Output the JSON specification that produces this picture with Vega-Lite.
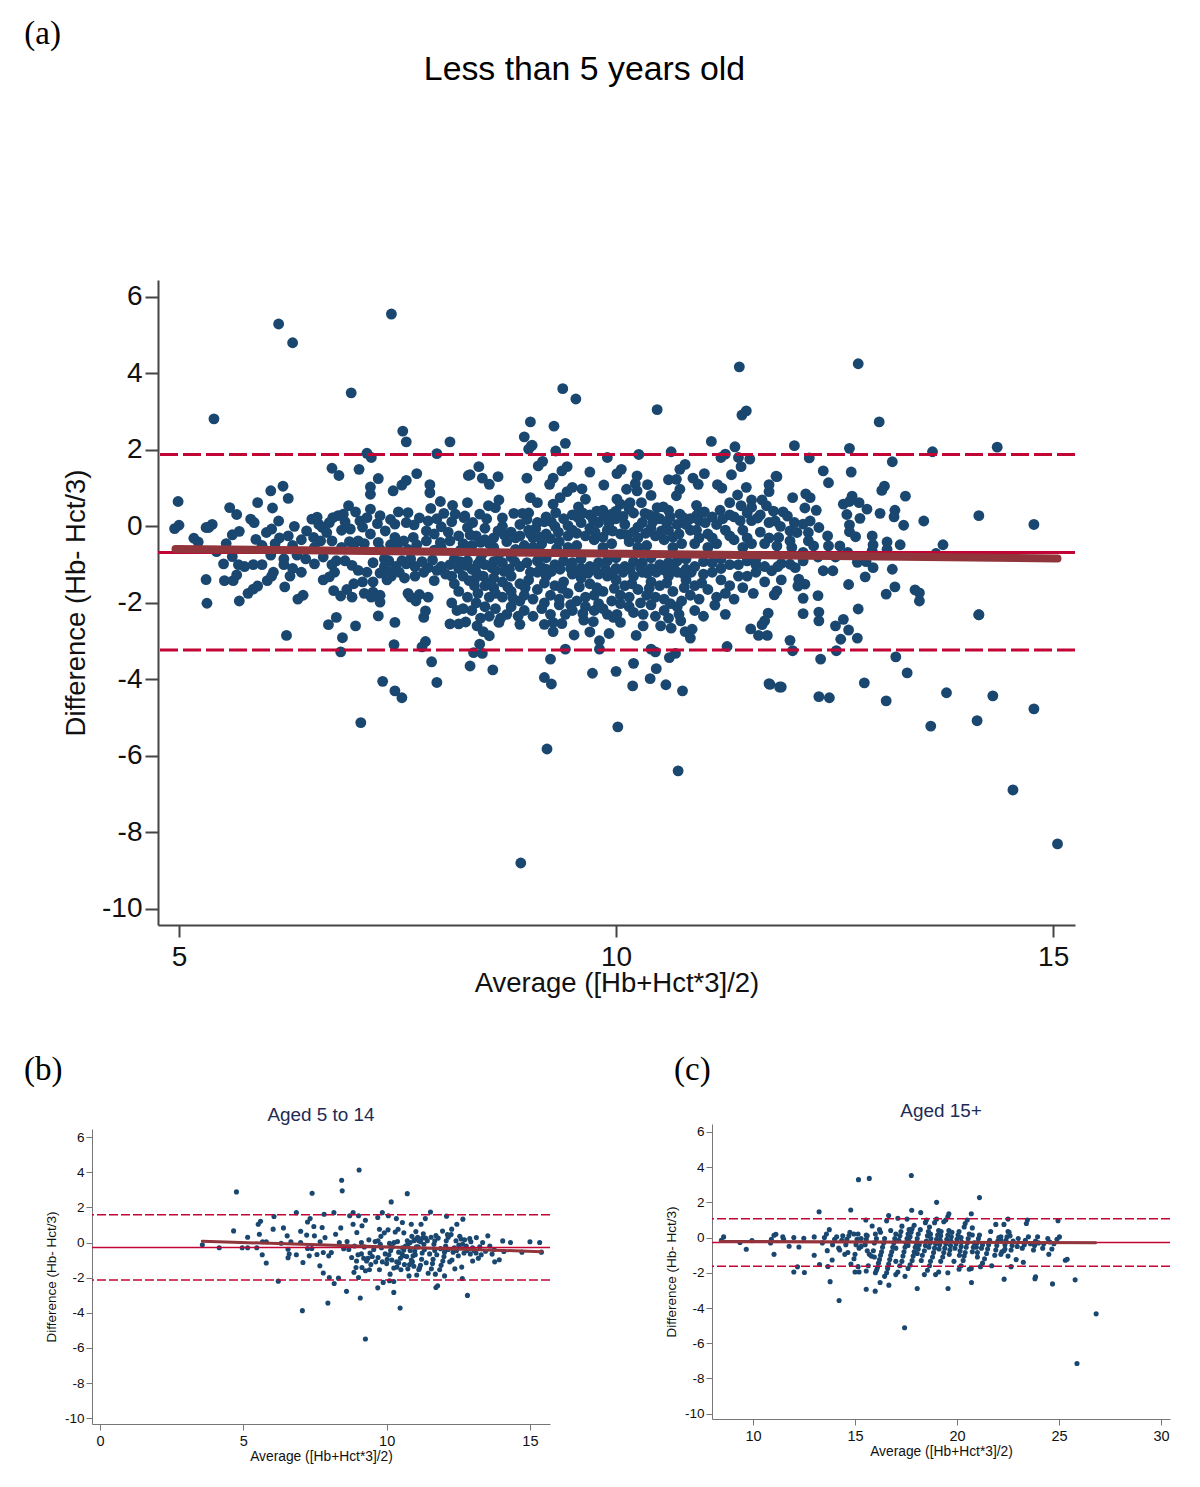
{"$schema":"https://vega.github.io/schema/vega-lite/v6.json","background":"white","padding":{"left":24,"top":17,"right":0,"bottom":0},"config":{"view":{"stroke":null},"font":"Liberation Sans","axis":{"grid":false,"labelOverlap":false,"domainColor":"#444444","tickColor":"#444444","labelColor":"#111111","titleColor":"#111111","labelFont":"Liberation Sans","titleFont":"Liberation Sans","titleFontWeight":"normal","labelFontWeight":"normal","format":"d","labelExpr":"replace(datum.label,'−','-')"}},
"datasets":{
"a":[{"x":5.40,"y":2.81},{"x":7.56,"y":2.49},{"x":7.60,"y":2.21},{"x":8.10,"y":2.21},{"x":7.15,"y":1.91},{"x":7.20,"y":1.80},{"x":7.95,"y":1.90},{"x":6.75,"y":1.52},{"x":6.83,"y":1.33},{"x":7.06,"y":1.49},{"x":7.28,"y":1.25},{"x":7.72,"y":1.38},{"x":7.60,"y":1.20},{"x":7.55,"y":1.08},{"x":7.19,"y":1.03},{"x":7.19,"y":0.84},{"x":7.45,"y":0.93},{"x":7.87,"y":1.09},{"x":7.87,"y":0.88},{"x":8.31,"y":1.33},{"x":6.19,"y":1.05},{"x":6.05,"y":0.93},{"x":6.25,"y":0.73},{"x":4.99,"y":0.65},{"x":5.90,"y":0.62},{"x":5.58,"y":0.49},{"x":6.07,"y":0.48},{"x":5.66,"y":0.31},{"x":5.82,"y":0.19},{"x":5.86,"y":0.10},{"x":6.14,"y":0.14},{"x":5.00,"y":0.03},{"x":4.95,"y":-0.06},{"x":5.38,"y":0.05},{"x":5.34,"y":-0.03},{"x":5.31,"y":-0.03},{"x":6.32,"y":0.0},{"x":5.69,"y":-0.13},{"x":5.61,"y":-0.22},{"x":6.0,"y":-0.16},{"x":6.06,"y":-0.07},{"x":5.17,"y":-0.31},{"x":5.22,"y":-0.41},{"x":5.88,"y":-0.34},{"x":5.54,"y":-0.45},{"x":5.43,"y":-0.66},{"x":5.61,"y":-0.79},{"x":5.51,"y":-0.98},{"x":5.31,"y":-1.39},{"x":5.52,"y":-1.42},{"x":5.62,"y":-1.42},{"x":5.66,"y":-1.27},{"x":5.32,"y":-2.01},{"x":5.69,"y":-1.95},{"x":5.79,"y":-1.75},{"x":5.85,"y":-1.64},{"x":5.90,"y":-1.56},{"x":6.01,"y":-1.42},{"x":6.21,"y":-1.58},{"x":6.36,"y":-1.90},{"x":6.42,"y":-1.80},{"x":6.23,"y":-2.85},{"x":6.71,"y":-2.57},{"x":6.80,"y":-2.38},{"x":7.02,"y":-2.60},{"x":6.87,"y":-2.91},{"x":6.85,"y":-3.28},{"x":7.28,"y":-2.34},{"x":7.47,"y":-2.51},{"x":7.46,"y":-3.09},{"x":7.82,"y":-2.21},{"x":7.80,"y":-2.38},{"x":7.82,"y":-3.01},{"x":7.78,"y":-3.15},{"x":7.89,"y":-3.54},{"x":7.95,"y":-4.08},{"x":7.33,"y":-4.05},{"x":7.47,"y":-4.30},{"x":7.55,"y":-4.48},{"x":7.08,"y":-5.13},{"x":6.14,"y":5.29},{"x":6.30,"y":4.80},{"x":7.43,"y":5.55},{"x":6.97,"y":3.49},{"x":8.91,"y":-8.80},{"x":15.05,"y":-8.30},{"x":14.54,"y":-6.89},{"x":10.71,"y":-6.39},{"x":9.21,"y":-5.82},{"x":10.02,"y":-5.24},{"x":14.78,"y":-4.77},{"x":14.13,"y":-5.08},{"x":13.60,"y":-5.22},{"x":13.09,"y":-4.56},{"x":13.78,"y":-4.35},{"x":14.31,"y":-4.43},{"x":12.84,"y":-4.09},{"x":13.33,"y":-3.83},{"x":13.2,"y":-3.41},{"x":14.15,"y":-2.31},{"x":11.41,"y":4.17},{"x":12.77,"y":4.25},{"x":9.39,"y":3.6},{"x":9.54,"y":3.33},{"x":10.47,"y":3.05},{"x":11.49,"y":3.02},{"x":11.44,"y":2.91},{"x":13.01,"y":2.73},{"x":9.02,"y":2.73},{"x":8.95,"y":2.34},{"x":9.03,"y":2.1},
{"x":12.04,"y":2.11},{"x":12.67,"y":2.04},{"x":13.62,"y":1.95},{"x":14.36,"y":2.07},{"x":12.21,"y":1.79},{"x":13.16,"y":1.69},{"x":12.37,"y":1.45},{"x":12.69,"y":1.42},{"x":11.84,"y":1.30},{"x":12.43,"y":1.14},{"x":13.07,"y":1.05},{"x":13.04,"y":0.94},{"x":12.02,"y":0.75},{"x":12.17,"y":0.85},{"x":12.22,"y":0.75},{"x":12.70,"y":0.79},{"x":12.67,"y":0.65},{"x":12.60,"y":0.58},{"x":12.78,"y":0.62},{"x":12.87,"y":0.45},{"x":13.31,"y":0.79},{"x":12.16,"y":0.48},{"x":12.29,"y":0.42},{"x":11.91,"y":0.38},{"x":11.96,"y":0.27},{"x":12.64,"y":0.31},{"x":12.79,"y":0.21},{"x":13.02,"y":0.34},{"x":13.19,"y":0.42},{"x":13.18,"y":0.25},{"x":13.52,"y":0.14},{"x":14.15,"y":0.28},{"x":14.78,"y":0.05},{"x":13.29,"y":0.03},{"x":12.67,"y":0.04},{"x":12.67,"y":-0.14},{"x":12.74,"y":-0.27},{"x":11.82,"y":0.14},{"x":12.04,"y":0.10},{"x":12.22,"y":0.14},{"x":12.32,"y":-0.03},{"x":12.14,"y":0.06},{"x":11.88,"y":0.0},{"x":11.99,"y":-0.12},{"x":12.07,"y":-0.16},{"x":12.2,"y":-0.16},{"x":12.42,"y":-0.25},{"x":12.93,"y":-0.25},{"x":13.10,"y":-0.41},{"x":12.94,"y":-0.48},{"x":13.25,"y":-0.48},{"x":13.74,"y":-0.48},{"x":11.86,"y":-0.29},{"x":11.99,"y":-0.38},{"x":12.2,"y":-0.38},{"x":11.84,"y":-0.51},{"x":12.01,"y":-0.55},{"x":12.43,"y":-0.51},{"x":12.56,"y":-0.51},{"x":12.26,"y":-0.51},{"x":13.10,"y":-0.6},{"x":12.93,"y":-0.64},{"x":12.65,"y":-0.68},{"x":13.66,"y":-0.71},{"x":12.14,"y":-0.68},{"x":12.31,"y":-0.8},{"x":12.51,"y":-0.8},{"x":11.99,"y":-0.99},{"x":11.89,"y":-0.97},{"x":12.05,"y":-1.08},{"x":12.14,"y":-0.9},{"x":12.76,"y":-0.94},{"x":12.86,"y":-0.92},{"x":12.94,"y":-1.08},{"x":13.16,"y":-1.12},{"x":12.37,"y":-1.16},{"x":12.48,"y":-1.16},{"x":12.85,"y":-1.32},{"x":11.78,"y":-1.16},{"x":11.89,"y":-1.40},{"x":12.09,"y":-1.38},{"x":12.16,"y":-1.51},{"x":12.08,"y":-1.56},{"x":12.66,"y":-1.52},{"x":13.19,"y":-1.58},{"x":13.09,"y":-1.77},{"x":13.42,"y":-1.66},{"x":13.47,"y":-1.74},{"x":13.47,"y":-1.95},{"x":11.84,"y":-1.69},{"x":11.81,"y":-1.79},{"x":12.14,"y":-1.88},{"x":12.31,"y":-1.81},{"x":12.77,"y":-2.16},{"x":14.15,"y":-2.31},{"x":12.14,"y":-2.28},{"x":12.32,"y":-2.24},{"x":12.32,"y":-2.47},{"x":12.60,"y":-2.43},{"x":12.51,"y":-2.60},{"x":12.66,"y":-2.71},{"x":12.57,"y":-2.95},{"x":12.76,"y":-2.92},{"x":11.99,"y":-2.98},{"x":12.02,"y":-3.25},{"x":12.52,"y":-3.25},{"x":12.34,"y":-3.47},{"x":11.89,"y":-4.20},{"x":11.76,"y":-4.13},{"x":12.32,"y":-4.45},{"x":12.44,"y":-4.48},
{"x":9.29,"y":2.62},{"x":9.42,"y":2.17},{"x":9.04,"y":2.12},{"x":9.0,"y":2.02},{"x":9.31,"y":1.97},{"x":11.09,"y":2.22},{"x":11.36,"y":2.08},{"x":10.63,"y":1.95},{"x":10.26,"y":1.88},{"x":9.90,"y":1.80},{"x":11.25,"y":1.89},{"x":11.20,"y":1.80},{"x":11.40,"y":1.80},{"x":11.53,"y":1.76},{"x":11.43,"y":1.56},{"x":9.16,"y":1.70},{"x":9.11,"y":1.58},{"x":8.43,"y":1.56},{"x":8.33,"y":1.35},{"x":8.47,"y":1.26},{"x":8.55,"y":1.10},{"x":8.65,"y":1.30},{"x":9.44,"y":1.56},{"x":9.38,"y":1.45},{"x":8.98,"y":1.26},{"x":9.28,"y":1.26},{"x":9.24,"y":1.10},{"x":9.70,"y":1.42},{"x":10.06,"y":1.49},{"x":10.01,"y":1.38},{"x":10.79,"y":1.62},{"x":10.73,"y":1.49},{"x":11.01,"y":1.38},{"x":11.32,"y":1.35},{"x":11.83,"y":1.31},{"x":10.24,"y":1.32},{"x":10.22,"y":1.12},{"x":10.24,"y":0.93},{"x":10.60,"y":1.22},{"x":10.69,"y":1.23},{"x":10.88,"y":1.26},{"x":10.94,"y":1.10},{"x":9.86,"y":1.08},{"x":10.36,"y":1.09},{"x":10.40,"y":0.81},{"x":10.12,"y":0.97},{"x":9.50,"y":1.02},{"x":9.44,"y":0.91},{"x":9.61,"y":0.98},{"x":11.16,"y":1.09},{"x":11.21,"y":1.0},{"x":11.49,"y":1.02},{"x":11.75,"y":1.09},{"x":11.75,"y":0.91},{"x":10.73,"y":0.97},{"x":10.69,"y":0.80},{"x":11.39,"y":0.82},{"x":9.02,"y":0.75},{"x":9.10,"y":0.62},{"x":8.66,"y":0.69},{"x":8.30,"y":0.62},{"x":8.54,"y":0.54},{"x":8.62,"y":0.49},{"x":9.36,"y":0.75},{"x":9.28,"y":0.58},{"x":9.65,"y":0.71},{"x":10.01,"y":0.71},{"x":10.05,"y":0.58},{"x":10.29,"y":0.62},{"x":10.16,"y":0.62},{"x":10.92,"y":0.55},{"x":11.30,"y":0.62},{"x":11.43,"y":0.54},{"x":11.55,"y":0.69},{"x":11.67,"y":0.69},{"x":11.72,"y":0.54},{"x":10.47,"y":0.49},{"x":10.60,"y":0.42},{"x":10.54,"y":0.51},{"x":11.01,"y":0.38},{"x":11.19,"y":0.42},{"x":9.57,"y":0.51},{"x":9.78,"y":0.40},{"x":9.86,"y":0.27},{"x":10.33,"y":0.34},{"x":10.73,"y":0.32},{"x":10.77,"y":0.23},{"x":8.83,"y":0.34},{"x":8.93,"y":0.34},{"x":8.44,"y":0.32},{"x":8.27,"y":0.27},{"x":9.31,"y":0.36},
{"x":8.41,"y":-2.60},{"x":8.48,"y":-2.75},{"x":8.55,"y":-2.86},{"x":8.44,"y":-3.08},{"x":8.37,"y":-3.30},{"x":8.47,"y":-3.32},{"x":8.33,"y":-3.65},{"x":8.59,"y":-3.75},{"x":8.66,"y":-2.51},{"x":8.90,"y":-2.56},{"x":9.18,"y":-2.56},{"x":9.28,"y":-2.51},{"x":9.28,"y":-2.75},{"x":9.38,"y":-2.54},{"x":9.52,"y":-2.84},{"x":9.42,"y":-3.21},{"x":9.25,"y":-3.47},{"x":9.18,"y":-3.95},{"x":9.26,"y":-4.12},{"x":9.63,"y":-2.45},{"x":9.74,"y":-2.49},{"x":9.70,"y":-2.76},{"x":9.92,"y":-2.80},{"x":9.81,"y":-2.99},{"x":9.81,"y":-3.21},{"x":9.73,"y":-3.84},{"x":10.0,"y":-3.79},{"x":10.23,"y":-2.85},{"x":10.20,"y":-3.58},{"x":10.19,"y":-4.17},{"x":10.40,"y":-3.21},{"x":10.45,"y":-3.28},{"x":10.46,"y":-3.72},{"x":10.39,"y":-3.98},{"x":10.57,"y":-4.14},{"x":10.76,"y":-4.30},{"x":10.68,"y":-3.32},{"x":10.61,"y":-3.43},{"x":11.27,"y":-3.14},{"x":10.63,"y":-2.66},{"x":10.51,"y":-2.60},{"x":10.74,"y":-2.47},{"x":10.87,"y":-2.69},{"x":10.79,"y":-2.75},{"x":10.85,"y":-2.92},{"x":10.31,"y":-2.30},{"x":10.31,"y":-2.60},{"x":10.01,"y":-2.30},{"x":10.05,"y":-2.51},{"x":9.97,"y":-2.38},{"x":11.74,"y":-2.27},{"x":11.70,"y":-2.47},{"x":11.67,"y":-2.57},{"x":11.54,"y":-2.68},{"x":11.63,"y":-2.85},{"x":11.73,"y":-2.85},{"x":11.75,"y":-4.11},{"x":11.87,"y":-4.2},{"x":11.13,"y":-2.06},{"x":11.25,"y":-2.3},{"x":11.57,"y":-1.75},
{"x":6.46,"y":-0.12},{"x":6.52,"y":0.19},{"x":6.58,"y":0.24},{"x":6.54,"y":-0.29},{"x":6.64,"y":-0.03},{"x":6.69,"y":-0.16},{"x":6.76,"y":0.23},{"x":6.82,"y":0.28},{"x":6.88,"y":0.32},{"x":6.94,"y":0.54},{"x":7.02,"y":0.38},{"x":7.07,"y":0.14},{"x":7.15,"y":0.23},{"x":7.19,"y":0.45},{"x":7.27,"y":0.07},{"x":6.86,"y":-0.10},{"x":6.96,"y":-0.07},{"x":7.05,"y":-0.38},{"x":7.19,"y":-0.2},{"x":7.36,"y":-0.12},{"x":7.47,"y":0.06},{"x":7.51,"y":0.38},{"x":7.62,"y":0.36},{"x":7.60,"y":0.10},{"x":7.69,"y":0.04},{"x":7.85,"y":0.14},{"x":7.83,"y":-0.12},{"x":7.47,"y":-0.29},{"x":7.57,"y":-0.38},{"x":7.68,"y":-0.29},{"x":7.88,"y":0.47},{"x":7.99,"y":0.65},{"x":8.03,"y":0.34},{"x":8.13,"y":0.55},{"x":8.16,"y":0.32},{"x":8.0,"y":-0.01},{"x":8.26,"y":0.23},{"x":8.3,"y":-0.03},{"x":8.1,"y":-0.38},{"x":7.99,"y":-0.42},{"x":7.83,"y":-0.38},{"x":6.75,"y":-0.38},{"x":6.86,"y":-0.55},{"x":6.3,"y":-0.5},{"x":6.15,"y":-0.3},{"x":6.25,"y":-0.25},{"x":6.4,"y":-0.35},{"x":6.1,"y":-0.45},{"x":5.95,"y":-0.5},{"x":6.05,"y":-0.75},{"x":6.2,"y":-0.85},{"x":6.35,"y":-0.75},{"x":6.45,"y":-0.85},{"x":5.95,"y":-1.0},{"x":5.85,"y":-1.0},{"x":5.75,"y":-1.05},{"x":5.68,"y":-1.0},{"x":6.08,"y":-1.2},{"x":6.2,"y":-1.0},{"x":6.3,"y":-1.1},{"x":6.4,"y":-1.2},{"x":6.06,"y":-1.3},{"x":6.27,"y":-1.3},{"x":6.65,"y":-0.8},{"x":6.8,"y":-0.9},{"x":6.75,"y":-1.0},{"x":6.9,"y":-0.9},{"x":6.78,"y":-1.2},{"x":6.65,"y":-1.4},{"x":6.72,"y":-1.32},{"x":6.92,"y":-1.65},{"x":6.98,"y":-1.85},{"x":6.77,"y":-1.68},{"x":6.85,"y":-1.82},{"x":7.0,"y":-1.5},{"x":7.1,"y":-1.45},{"x":7.05,"y":-1.15},{"x":7.15,"y":-1.2},{"x":7.22,"y":-1.45},{"x":7.12,"y":-1.75},{"x":7.2,"y":-1.85},{"x":7.22,"y":-1.72},{"x":7.3,"y":-1.8},{"x":7.3,"y":-1.98},{"x":7.4,"y":-0.9},{"x":7.35,"y":-1.05},{"x":7.43,"y":-1.3},{"x":7.52,"y":-1.2},{"x":7.38,"y":-1.4},{"x":7.35,"y":-0.85},{"x":7.4,"y":-1.18},{"x":7.58,"y":-1.35},{"x":7.6,"y":-0.98},{"x":7.55,"y":-0.9},{"x":7.62,"y":-1.75},{"x":7.65,"y":-1.85},{"x":7.71,"y":-1.95},{"x":7.75,"y":-1.78},{"x":7.85,"y":-1.85},{"x":7.7,"y":-1.05},{"x":7.8,"y":-1.2},{"x":7.85,"y":-1.08},{"x":7.95,"y":-1.15},{"x":8.0,"y":-1.05},{"x":8.05,"y":-1.25},{"x":7.92,"y":-1.42},{"x":8.1,"y":-1.0},{"x":8.2,"y":-1.1},{"x":8.15,"y":-1.5},{"x":8.2,"y":-1.7},{"x":8.12,"y":-2.0},{"x":8.18,"y":-2.2},{"x":8.3,"y":-1.85},{"x":8.25,"y":-2.15},{"x":8.28,"y":-2.5},{"x":8.1,"y":-2.55},{"x":8.2,"y":-2.55},{"x":8.35,"y":-2.2},{"x":8.4,"y":-2.0},{"x":8.5,"y":-2.1},{"x":8.55,"y":-2.35},{"x":8.45,"y":-2.4},{"x":8.38,"y":-1.55},{"x":8.48,"y":-1.3},{"x":8.6,"y":-1.6},{"x":8.7,"y":-1.85},{"x":8.62,"y":-1.15},{"x":8.25,"y":-0.45},{"x":8.4,"y":-0.25},{"x":8.5,"y":-0.05},{"x":8.6,"y":-0.3},{"x":8.7,"y":0.0},{"x":8.8,"y":-0.15},{"x":8.9,"y":0.05},{"x":9.0,"y":-0.1},{"x":9.1,"y":0.1},{"x":9.2,"y":-0.2},{"x":9.3,"y":0.0},{"x":9.4,"y":0.2},{"x":9.5,"y":-0.1},{"x":9.6,"y":0.1},{"x":9.7,"y":-0.05},{"x":9.8,"y":0.1},{"x":9.9,"y":-0.1},{"x":10.0,"y":0.2},{"x":10.1,"y":0.05},{"x":10.2,"y":-0.15},{"x":10.3,"y":0.1},{"x":10.4,"y":-0.05},{"x":10.5,"y":0.2},{"x":10.6,"y":-0.1},{"x":10.7,"y":0.05},{"x":10.85,"y":-0.1},{"x":10.95,"y":0.15},{"x":11.05,"y":-0.2},{"x":11.15,"y":0.05},{"x":11.25,"y":-0.1},{"x":11.35,"y":0.25},{"x":11.45,"y":-0.1},{"x":11.55,"y":0.15},{"x":11.65,"y":-0.15},{"x":11.75,"y":0.1},
{"x":8.35,"y":-0.5},{"x":8.55,"y":-0.45},{"x":8.75,"y":-0.4},{"x":8.95,"y":-0.5},{"x":9.15,"y":-0.45},{"x":9.35,"y":-0.4},{"x":9.55,"y":-0.5},{"x":9.75,"y":-0.35},{"x":9.95,"y":-0.45},{"x":10.15,"y":-0.4},{"x":10.35,"y":-0.5},{"x":10.55,"y":-0.35},{"x":10.75,"y":-0.45},{"x":10.95,"y":-0.3},{"x":11.15,"y":-0.45},{"x":11.35,"y":-0.35},{"x":11.55,"y":-0.45},{"x":11.75,"y":-0.3},
{"x":8.3,"y":-0.9},{"x":8.5,"y":-1.0},{"x":8.7,"y":-0.95},{"x":8.9,"y":-1.05},{"x":9.1,"y":-0.9},{"x":9.3,"y":-1.0},{"x":9.5,"y":-0.95},{"x":9.7,"y":-1.05},{"x":9.9,"y":-0.9},{"x":10.1,"y":-1.05},{"x":10.3,"y":-0.95},{"x":10.5,"y":-1.0},{"x":10.7,"y":-0.9},{"x":10.9,"y":-1.05},{"x":11.1,"y":-0.95},{"x":11.3,"y":-1.0},{"x":11.5,"y":-0.9},{"x":11.7,"y":-1.05},
{"x":8.4,"y":-1.2},{"x":8.6,"y":-1.35},{"x":8.8,"y":-1.3},{"x":9.0,"y":-1.4},{"x":9.2,"y":-1.3},{"x":9.4,"y":-1.45},{"x":9.6,"y":-1.35},{"x":9.8,"y":-1.25},{"x":10.0,"y":-1.4},{"x":10.2,"y":-1.3},{"x":10.4,"y":-1.45},{"x":10.6,"y":-1.3},{"x":10.8,"y":-1.4},{"x":11.0,"y":-1.25},{"x":11.2,"y":-1.4},{"x":11.4,"y":-1.3},{"x":11.6,"y":-1.2},
{"x":8.8,"y":-1.7},{"x":8.95,"y":-1.8},{"x":9.1,"y":-1.65},{"x":9.25,"y":-1.8},{"x":9.45,"y":-1.75},{"x":9.65,"y":-1.85},{"x":9.85,"y":-1.7},{"x":10.05,"y":-1.8},{"x":10.25,"y":-1.65},{"x":10.45,"y":-1.85},{"x":10.65,"y":-1.7},{"x":10.85,"y":-1.8},{"x":11.05,"y":-1.65},{"x":11.25,"y":-1.75},{"x":11.45,"y":-1.6},
{"x":8.8,"y":-2.1},{"x":8.95,"y":-2.2},{"x":9.15,"y":-2.15},{"x":9.35,"y":-2.05},{"x":9.5,"y":-2.2},{"x":9.65,"y":-2.1},{"x":9.85,"y":-2.15},{"x":10.15,"y":-2.1},{"x":10.4,"y":-2.05},{"x":10.55,"y":-2.2},{"x":10.7,"y":-2.1},{"x":10.9,"y":-2.2},{"x":11.0,"y":-2.35},{"x":8.75,"y":-2.3},{"x":9.05,"y":-2.35},{"x":9.25,"y":-2.3},{"x":9.75,"y":-2.2},{"x":10.45,"y":-2.35},{"x":10.6,"y":-2.4},
{"x":9.0,"y":0.35},{"x":9.2,"y":0.25},{"x":9.5,"y":0.3},{"x":9.7,"y":0.3},{"x":10.0,"y":0.4},{"x":10.2,"y":0.35},{"x":10.45,"y":0.25},{"x":10.85,"y":0.2},{"x":11.1,"y":0.25},{"x":11.3,"y":0.3},{"x":11.5,"y":0.35},{"x":11.65,"y":0.3},{"x":11.8,"y":0.4},
{"x":6.6,"y":0.05},{"x":6.72,"y":0.1},{"x":6.9,"y":0.12},{"x":7.1,"y":-0.02},{"x":7.3,"y":0.28},{"x":7.42,"y":0.18},{"x":7.75,"y":0.22},{"x":7.95,"y":0.2},{"x":8.12,"y":0.12},{"x":8.36,"y":0.1},{"x":8.52,"y":0.2},{"x":8.7,"y":0.22},{"x":8.98,"y":0.18},{"x":9.08,"y":-0.06},{"x":9.26,"y":0.12},{"x":9.45,"y":0.02},{"x":9.56,"y":0.24},{"x":9.74,"y":0.16},{"x":9.92,"y":0.08},{"x":10.08,"y":0.26},{"x":10.25,"y":-0.02},{"x":10.42,"y":0.12},{"x":10.58,"y":0.08},{"x":10.8,"y":0.05},{"x":11.02,"y":0.1},{"x":11.22,"y":0.2},{"x":11.42,"y":0.15},{"x":11.62,"y":0.22},
{"x":6.62,"y":-0.38},{"x":6.95,"y":-0.4},{"x":7.12,"y":-0.45},{"x":7.28,"y":-0.42},{"x":7.42,"y":-0.48},{"x":7.72,"y":-0.48},{"x":7.92,"y":-0.2},{"x":8.08,"y":-0.15},{"x":8.2,"y":-0.25},{"x":8.33,"y":-0.22},{"x":8.45,"y":-0.42},{"x":8.65,"y":-0.12},{"x":8.85,"y":-0.3},{"x":9.05,"y":-0.3},{"x":9.25,"y":-0.32},{"x":9.45,"y":-0.25},{"x":9.65,"y":-0.25},{"x":9.85,"y":-0.28},{"x":10.05,"y":-0.2},{"x":10.25,"y":-0.3},{"x":10.45,"y":-0.25},{"x":10.65,"y":-0.28},{"x":10.9,"y":-0.45},{"x":11.1,"y":-0.3},{"x":11.3,"y":-0.25},{"x":11.5,"y":-0.3},{"x":11.7,"y":-0.45},
{"x":6.55,"y":-0.98},{"x":6.98,"y":-1.02},{"x":7.22,"y":-0.95},{"x":7.48,"y":-1.05},{"x":7.78,"y":-0.92},{"x":8.22,"y":-0.92},{"x":8.35,"y":-1.12},{"x":8.45,"y":-0.88},{"x":8.6,"y":-0.92},{"x":8.78,"y":-1.12},{"x":8.98,"y":-0.95},{"x":9.2,"y":-1.12},{"x":9.4,"y":-0.9},{"x":9.6,"y":-1.1},{"x":9.8,"y":-0.95},{"x":10.0,"y":-1.1},{"x":10.2,"y":-0.92},{"x":10.4,"y":-1.1},{"x":10.6,"y":-0.95},{"x":10.8,"y":-1.12},{"x":11.0,"y":-0.92},{"x":11.2,"y":-1.1},{"x":11.4,"y":-1.0},{"x":11.6,"y":-1.0},
{"x":8.25,"y":-1.3},{"x":8.5,"y":-1.55},{"x":8.7,"y":-1.45},{"x":8.9,"y":-1.5},{"x":9.1,"y":-1.2},{"x":9.3,"y":-1.55},{"x":9.5,"y":-1.25},{"x":9.7,"y":-1.5},{"x":9.9,"y":-1.3},{"x":10.1,"y":-1.55},{"x":10.3,"y":-1.2},{"x":10.5,"y":-1.55},{"x":10.7,"y":-1.2},{"x":10.9,"y":-1.55},{"x":11.1,"y":-1.2},{"x":11.3,"y":-1.55},{"x":11.5,"y":-1.3},{"x":11.7,"y":-1.45},{"x":8.42,"y":-1.75},{"x":8.55,"y":-1.85},{"x":8.9,"y":-1.95},{"x":9.05,"y":-1.9},{"x":9.35,"y":-1.9},{"x":9.55,"y":-1.95},{"x":9.75,"y":-1.8},{"x":9.95,"y":-1.95},{"x":10.15,"y":-1.85},{"x":10.35,"y":-1.8},{"x":10.55,"y":-1.9},{"x":10.75,"y":-1.95},{"x":10.95,"y":-1.9},{"x":11.15,"y":-1.85},{"x":11.35,"y":-1.9},{"x":8.62,"y":-2.15},{"x":8.68,"y":-2.4},{"x":8.88,"y":-2.35},{"x":9.42,"y":-2.3},{"x":9.62,"y":-2.28},{"x":9.9,"y":-2.3},{"x":10.2,"y":-2.25},{"x":10.72,"y":-2.3},{"x":8.5,"y":-0.35},{"x":8.9,"y":-0.25},{"x":9.85,"y":0.42},{"x":10.15,"y":0.45},{"x":10.95,"y":0.38},{"x":11.55,"y":0.5},{"x":11.85,"y":-1.05},{"x":6.55,"y":-0.55},{"x":7.0,"y":-0.58},{"x":7.5,"y":-0.5},{"x":8.0,"y":-0.55},{"x":8.6,"y":-0.55},{"x":9.05,"y":-0.55},{"x":9.45,"y":-0.55},{"x":9.85,"y":-0.55},{"x":10.25,"y":-0.55},{"x":10.65,"y":-0.55},{"x":11.05,"y":-0.55},{"x":11.45,"y":-0.55},{"x":8.8,"y":-0.8},{"x":9.2,"y":-0.82},{"x":9.6,"y":-0.85},{"x":10.0,"y":-0.82},{"x":10.4,"y":-0.82},{"x":10.8,"y":-0.85},{"x":11.2,"y":-0.85},{"x":11.6,"y":-0.85},
{"x":8.32,"y":-0.62},{"x":8.47,"y":-0.72},{"x":8.66,"y":-0.72},{"x":8.85,"y":-0.6},{"x":9.12,"y":-0.62},{"x":9.32,"y":-0.58},{"x":8.28,"y":-1.02},{"x":8.42,"y":-0.98},{"x":8.58,"y":-1.08},{"x":8.72,"y":-1.18},{"x":8.84,"y":-0.92},{"x":9.02,"y":-1.2},{"x":9.14,"y":-1.06},{"x":9.26,"y":-1.18},{"x":9.36,"y":-1.12},{"x":9.48,"y":-1.1},{"x":9.56,"y":-1.2},{"x":9.68,"y":-1.22},{"x":9.76,"y":-1.12},{"x":9.88,"y":-1.12},{"x":9.96,"y":-1.22},{"x":10.08,"y":-1.2},{"x":10.16,"y":-1.12},{"x":10.28,"y":-1.08},{"x":10.36,"y":-1.22},{"x":10.46,"y":-1.2},{"x":10.56,"y":-1.15},{"x":10.66,"y":-1.1},{"x":10.76,"y":-1.22},{"x":10.86,"y":-1.2},{"x":8.38,"y":-1.4},{"x":8.55,"y":-1.48},{"x":8.76,"y":-1.58},{"x":8.96,"y":-1.6},{"x":9.18,"y":-1.48},{"x":9.38,"y":-1.62},{"x":9.58,"y":-1.58},{"x":9.78,"y":-1.6},{"x":9.98,"y":-1.62},{"x":10.18,"y":-1.5},{"x":10.38,"y":-1.62},{"x":10.58,"y":-1.48},{"x":10.78,"y":-1.6},{"x":10.98,"y":-1.48},{"x":9.02,"y":-0.2},{"x":9.14,"y":-0.28},{"x":9.34,"y":-0.15},{"x":9.55,"y":-0.18},{"x":9.76,"y":-0.15},{"x":9.96,"y":-0.12},{"x":10.12,"y":-0.22},{"x":10.34,"y":-0.18},{"x":10.52,"y":-0.12},{"x":10.72,"y":-0.2},{"x":10.92,"y":-0.1},{"x":9.18,"y":0.12},{"x":9.62,"y":0.35},{"x":9.95,"y":0.32},{"x":10.38,"y":0.3},{"x":10.62,"y":0.25},{"x":10.92,"y":0.28},{"x":8.72,"y":-0.22},{"x":8.22,"y":-0.62},{"x":7.92,"y":-0.62},{"x":7.62,"y":-0.6},{"x":7.3,"y":-0.6},{"x":8.15,"y":-0.85},{"x":7.9,"y":-0.88},{"x":7.65,"y":-0.85},{"x":7.3,"y":-1.22},{"x":7.7,"y":-1.3},{"x":8.12,"y":-1.3},{"x":8.32,"y":-1.42},{"x":8.62,"y":-1.75},{"x":8.82,"y":-1.88},{"x":9.18,"y":-2.0},{"x":9.48,"y":-2.05},{"x":9.8,"y":-2.02},{"x":10.05,"y":-2.02},{"x":10.28,"y":-2.0},{"x":10.62,"y":-2.02}],
"b":[{"x":3.57,"y":-0.13},{"x":4.16,"y":-0.3},{"x":4.76,"y":2.88},{"x":4.66,"y":0.66},{"x":4.96,"y":-0.3},{"x":5.15,"y":0.3},{"x":5.15,"y":-0.3},{"x":5.47,"y":-0.3},{"x":5.66,"y":-0.7},{"x":5.80,"y":-1.17},{"x":5.56,"y":0.47},{"x":5.52,"y":1.04},{"x":5.6,"y":1.21},{"x":6.07,"y":1.48},{"x":6.04,"y":0.76},{"x":6.4,"y":0.83},{"x":6.22,"y":-2.2},{"x":5.67,"y":0.04},{"x":5.8,"y":0.04},{"x":6.32,"y":-0.04},{"x":6.53,"y":0.38},{"x":6.56,"y":-0.38},{"x":6.6,"y":-0.66},{"x":6.56,"y":-0.87},{"x":6.66,"y":0.04},{"x":6.85,"y":1.70},{"x":6.85,"y":-0.7},{"x":7.0,"y":0.64},{"x":7.0,"y":0.0},{"x":7.08,"y":-1.14},{"x":7.06,"y":-3.88},{"x":7.4,"y":2.8},{"x":7.24,"y":1.17},{"x":7.33,"y":1.36},{"x":7.46,"y":0.91},{"x":7.21,"y":0.42},{"x":7.48,"y":0.38},{"x":7.24,"y":-0.34},{"x":7.3,"y":-0.76},{"x":7.39,"y":-0.34},{"x":7.57,"y":-0.68},{"x":7.67,"y":-1.33},{"x":7.79,"y":-1.74},{"x":7.75,"y":0.85},{"x":7.82,"y":1.61},{"x":7.68,"y":0.04},{"x":7.85,"y":0.28},{"x":7.79,"y":-0.57},{"x":7.98,"y":-0.76},{"x":8.07,"y":-0.57},{"x":8.0,"y":-1.99},{"x":8.17,"y":-2.33},{"x":7.95,"y":-3.45},{"x":8.32,"y":-2.03},{"x":8.16,"y":1.70},{"x":8.22,"y":0.47},{"x":8.4,"y":0.83},{"x":8.43,"y":3.54},{"x":8.45,"y":2.94},{"x":8.6,"y":-2.78},{"x":9.04,"y":4.13},{"x":9.26,"y":-5.49},{"x":9.08,"y":-3.16},{"x":10.72,"y":2.78},{"x":10.16,"y":2.31},{"x":10.47,"y":-3.73},{"x":12.82,"y":-3.01},{"x":10.25,"y":-2.84},{"x":9.69,"y":-2.58},{"x":9.88,"y":-2.27},{"x":10.1,"y":-2.18},{"x":10.25,"y":-2.22},{"x":11.72,"y":-2.56},{"x":11.78,"y":-2.46},{"x":12.64,"y":-2.05},{"x":9.02,"y":-1.99},{"x":8.86,"y":-1.70},{"x":8.93,"y":-1.42},{"x":9.26,"y":-1.61},{"x":9.14,"y":-1.42},{"x":8.71,"y":1.52},{"x":8.83,"y":1.70},{"x":9.02,"y":1.52},{"x":9.26,"y":1.27},{"x":8.83,"y":1.04},{"x":9.14,"y":0.95},{"x":8.96,"y":0.57},{"x":9.69,"y":1.42},{"x":9.85,"y":1.7},{"x":10.06,"y":1.52},{"x":10.34,"y":1.36},{"x":10.55,"y":1.14},{"x":10.86,"y":1.04},{"x":11.2,"y":1.04},{"x":11.35,"y":1.36},{"x":11.53,"y":1.74},{"x":12.09,"y":1.50},{"x":12.66,"y":1.33},{"x":12.45,"y":1.04},{"x":12.27,"y":0.76},{"x":13.53,"y":0.38},{"x":13.13,"y":0.28},{"x":12.94,"y":0.04},{"x":14.05,"y":0.09},{"x":14.32,"y":0.0},{"x":15.0,"y":0.04},{"x":15.34,"y":0.0},{"x":15.4,"y":-0.55},{"x":14.72,"y":-0.55},{"x":13.68,"y":-0.66},{"x":13.77,"y":-1.1},{"x":13.93,"y":-0.98},{"x":14.09,"y":-0.51},{"x":8.35,"y":0.0},{"x":8.5,"y":-0.35},{"x":8.62,"y":0.05},{"x":8.68,"y":-0.4},{"x":8.78,"y":-0.85},{"x":8.88,"y":-0.2},{"x":9.0,"y":-0.7},{"x":8.95,"y":-1.05},{"x":9.12,"y":0.0},{"x":9.22,"y":-0.25},{"x":9.35,"y":-0.9},{"x":9.38,"y":0.15},{"x":9.45,"y":-1.25},{"x":9.5,"y":-0.8},{"x":9.55,"y":-0.4},{"x":9.62,"y":-1.1},{"x":9.6,"y":0.05},{"x":9.75,"y":0.75},{"x":9.8,"y":0.35},{"x":9.92,"y":0.55},{"x":9.82,"y":-0.3},{"x":9.95,"y":-0.65},{"x":9.85,"y":-1.1},{"x":10.0,"y":-1.2},{"x":10.05,"y":0.72},{"x":10.1,"y":-0.05},{"x":10.12,"y":-1.8},{"x":10.18,"y":-1.0},{"x":10.25,"y":-1.45},{"x":10.3,"y":0.6},{"x":10.38,"y":0.05},{"x":10.42,"y":-0.55},{"x":10.5,"y":-1.55},{"x":10.4,"y":0.75},{"x":10.55,"y":-0.3},{"x":10.62,"y":-1.25},{"x":10.6,"y":0.55},{"x":10.7,"y":-0.8},{"x":10.75,"y":-0.1},{"x":10.78,"y":-1.9},{"x":10.82,"y":-0.45},{"x":10.88,"y":0.35},{"x":10.9,"y":-1.1},{"x":10.95,"y":0.1},{"x":11.0,"y":-0.7},{"x":11.05,"y":-1.85},{"x":11.02,"y":0.62},{"x":11.1,"y":-0.25},{"x":11.15,"y":-1.45},{"x":11.18,"y":0.05},{"x":11.22,"y":-0.95},{"x":11.28,"y":0.5},{"x":11.32,"y":-0.4},{"x":11.38,"y":-1.15},{"x":11.42,"y":0.1},{"x":11.5,"y":-0.65},{"x":11.55,"y":0.3},{"x":11.6,"y":-1.2},{"x":11.65,"y":-0.1},{"x":11.7,"y":-1.8},{"x":11.75,"y":-0.7},{"x":11.8,"y":0.25},{"x":11.85,"y":-1.55},{"x":11.88,"y":-0.35},{"x":11.95,"y":0.65},{"x":12.0,"y":-0.8},{"x":12.02,"y":-1.9},{"x":12.08,"y":0.1},{"x":12.15,"y":-0.4},{"x":12.2,"y":-1.1},{"x":12.25,"y":0.45},{"x":12.32,"y":-0.55},{"x":12.38,"y":-1.5},{"x":12.42,"y":0.1},{"x":12.5,"y":-0.75},{"x":12.55,"y":0.35},{"x":12.62,"y":-1.4},{"x":12.65,"y":-0.1},{"x":12.72,"y":0.15},{"x":12.8,"y":-0.45},{"x":12.9,"y":0.22},{"x":13.0,"y":-1.05},{"x":13.05,"y":-0.45},{"x":13.2,"y":-0.9},{"x":13.25,"y":-0.25},{"x":13.35,"y":0.0},{"x":13.45,"y":-0.5},{"x":13.75,"y":-0.4},{"x":12.15,"y":0.3},{"x":11.45,"y":-1.75},{"x":10.95,"y":-1.35},{"x":10.35,"y":-1.1},{"x":9.75,"y":-1.55},{"x":9.4,"y":-1.55},{"x":10.58,"y":-0.75},{"x":11.25,"y":0.25},{"x":11.68,"y":0.1},{"x":10.82,"y":0.0},{"x":10.98,"y":0.15},{"x":11.12,"y":0.1},
{"x":10.02,"y":-0.95},{"x":10.08,"y":-0.7},{"x":10.14,"y":-0.45},{"x":10.2,"y":-0.25},{"x":10.26,"y":0.0},{"x":10.36,"y":-1.4},{"x":10.42,"y":-1.15},{"x":10.48,"y":-0.9},{"x":10.54,"y":-0.65},{"x":10.6,"y":-0.42},{"x":10.66,"y":-0.2},{"x":10.72,"y":0.1},{"x":10.74,"y":-1.5},{"x":10.8,"y":-1.25},{"x":10.86,"y":-1.0},{"x":10.92,"y":-0.75},{"x":10.98,"y":-0.5},{"x":11.04,"y":-0.25},{"x":11.08,"y":0.3},{"x":11.12,"y":-1.55},{"x":11.18,"y":-1.3},{"x":11.24,"y":-0.6},{"x":11.3,"y":-0.1},{"x":11.36,"y":0.25},{"x":11.56,"y":-1.5},{"x":11.62,"y":-0.95},{"x":11.68,"y":-0.45},{"x":11.72,"y":0.4},{"x":11.9,"y":-1.3},{"x":11.96,"y":-1.05},{"x":12.02,"y":-0.55},{"x":12.06,"y":-0.2},{"x":12.12,"y":0.45},{"x":12.28,"y":-1.0},{"x":12.36,"y":-0.3},{"x":12.44,"y":-0.45},{"x":12.52,"y":-0.15},{"x":12.6,"y":0.2},{"x":12.7,"y":-0.6},{"x":12.78,"y":-0.2},{"x":12.92,"y":-0.65},{"x":13.0,"y":-0.3},{"x":13.12,"y":-0.6},{"x":13.3,"y":-0.7},{"x":13.6,"y":-0.2},{"x":9.7,"y":-0.85},{"x":9.78,"y":-0.1},{"x":9.7,"y":0.1},{"x":9.3,"y":-1.05},{"x":9.2,"y":-0.9},{"x":9.12,"y":-0.65},{"x":9.42,"y":-0.6}],
"c":[{"x":8.45,"y":-0.15},{"x":8.56,"y":0.04},{"x":9.36,"y":-0.28},{"x":9.67,"y":-0.66},{"x":9.95,"y":-0.17},{"x":10.86,"y":-0.3},{"x":11.03,"y":-0.95},{"x":11.03,"y":0.13},{"x":11.12,"y":0.19},{"x":11.46,"y":0.04},{"x":11.77,"y":-0.49},{"x":12.0,"y":0.0},{"x":12.0,"y":-1.95},{"x":12.18,"y":-1.66},{"x":12.52,"y":-1.98},{"x":12.25,"y":-0.53},{"x":12.49,"y":-0.04},{"x":13.0,"y":0.04},{"x":13.0,"y":-1.0},{"x":13.24,"y":1.47},{"x":13.26,"y":-1.53},{"x":13.67,"y":-1.64},{"x":13.78,"y":-2.5},{"x":14.22,"y":-3.57},{"x":13.88,"y":-1.27},{"x":13.64,"y":-0.74},{"x":13.74,"y":0.45},{"x":14.79,"y":1.57},{"x":15.17,"y":3.29},{"x":15.7,"y":3.36},{"x":15.53,"y":1.0},{"x":15.84,"y":0.66},{"x":15.55,"y":-2.93},{"x":15.99,"y":-3.04},{"x":16.23,"y":-2.55},{"x":16.66,"y":-2.7},{"x":17.76,"y":3.53},{"x":17.43,"y":-5.12},{"x":17.78,"y":1.55},{"x":18.22,"y":1.42},{"x":19.0,"y":2.0},{"x":18.05,"y":-2.89},{"x":19.56,"y":-2.89},{"x":21.1,"y":2.27},{"x":20.71,"y":-2.55},{"x":22.31,"y":-2.36},{"x":23.82,"y":-2.33},{"x":23.85,"y":-2.23},{"x":24.68,"y":-2.63},{"x":25.79,"y":-2.4},{"x":25.31,"y":-1.29},{"x":25.4,"y":-1.23},{"x":26.82,"y":-4.33},{"x":25.88,"y":-7.15},{"x":24.95,"y":0.96},{"x":25.02,"y":0.04},{"x":10.9,"y":-0.1},{"x":11.5,"y":-0.1},{"x":13.4,"y":-0.3},{"x":13.5,"y":0.0},{"x":13.6,"y":0.2},{"x":13.9,"y":-0.4},{"x":14.0,"y":-0.1},{"x":14.1,"y":0.05},{"x":14.2,"y":-0.6},{"x":14.25,"y":-0.7},{"x":14.5,"y":-0.95},{"x":14.55,"y":-0.4},{"x":14.6,"y":-0.1},{"x":14.7,"y":0.1},{"x":14.75,"y":0.3},{"x":14.65,"y":-0.85},{"x":14.8,"y":-1.5},{"x":14.95,"y":-1.2},{"x":15.0,"y":-0.95},{"x":15.05,"y":-0.4},{"x":15.1,"y":-0.1},{"x":15.15,"y":0.2},{"x":14.95,"y":0.2},{"x":15.2,"y":-0.6},{"x":15.3,"y":-0.5},{"x":15.0,"y":-1.95},{"x":15.2,"y":-1.95},{"x":15.15,"y":-1.65},{"x":15.55,"y":-1.9},{"x":15.65,"y":-1.6},{"x":15.55,"y":-0.1},{"x":15.6,"y":0.1},{"x":15.5,"y":-0.4},{"x":15.6,"y":-0.75},{"x":15.7,"y":-0.95},{"x":15.8,"y":-1.05},{"x":15.9,"y":-0.75},{"x":15.95,"y":-0.3},{"x":16.05,"y":-0.05},{"x":16.1,"y":-1.7},{"x":16.0,"y":-2.0},{"x":16.05,"y":-1.85},{"x":16.15,"y":-1.45},{"x":16.2,"y":-1.25},{"x":16.25,"y":-1.0},{"x":16.3,"y":-0.8},{"x":16.35,"y":-0.55},{"x":16.4,"y":-0.3},{"x":16.45,"y":-0.05},{"x":16.25,"y":0.3},{"x":16.2,"y":0.45},{"x":16.55,"y":0.95},{"x":16.65,"y":1.25},{"x":16.45,"y":-2.2},{"x":16.55,"y":-2.0},{"x":16.6,"y":-1.75},{"x":16.65,"y":-1.5},{"x":16.7,"y":-1.25},{"x":16.75,"y":-1.0},{"x":16.8,"y":-0.8},{"x":16.85,"y":-0.55},{"x":16.9,"y":-0.3},{"x":16.95,"y":-0.05},{"x":17.0,"y":0.2},{"x":16.75,"y":0.4},{"x":17.1,"y":1.1},{"x":17.0,"y":-1.35},{"x":17.0,"y":-2.1},{"x":17.1,"y":-1.95},{"x":17.2,"y":-1.6},{"x":17.3,"y":-1.35},{"x":17.35,"y":-1.05},{"x":17.4,"y":-0.8},{"x":17.45,"y":-0.55},{"x":17.5,"y":-0.3},{"x":17.55,"y":-0.05},{"x":17.6,"y":0.2},{"x":17.65,"y":0.45},{"x":17.3,"y":0.65},{"x":17.55,"y":1.05},{"x":17.45,"y":-2.2},{"x":17.6,"y":-1.75},{"x":17.7,"y":-1.55},{"x":17.8,"y":-1.3},{"x":17.85,"y":-1.05},{"x":17.9,"y":-0.8},{"x":17.95,"y":-0.55},{"x":18.0,"y":-0.3},{"x":18.05,"y":-0.05},{"x":18.1,"y":0.2},{"x":17.9,"y":0.7},{"x":17.8,"y":0.5},{"x":18.25,"y":-1.3},{"x":18.3,"y":-1.0},{"x":18.4,"y":-0.75},{"x":18.45,"y":-0.45},{"x":18.5,"y":-0.2},{"x":18.55,"y":0.1},{"x":18.6,"y":0.35},{"x":18.65,"y":0.6},{"x":18.45,"y":0.85},{"x":18.5,"y":1.0},{"x":18.4,"y":-2.1},{"x":18.55,"y":-1.85},{"x":18.65,"y":-1.6},{"x":18.7,"y":-1.35},{"x":18.8,"y":-1.1},{"x":18.85,"y":-0.85},{"x":18.9,"y":-0.6},{"x":18.95,"y":-0.35},{"x":19.0,"y":-0.1},{"x":19.05,"y":0.15},{"x":19.1,"y":0.4},{"x":18.9,"y":0.85},{"x":19.0,"y":1.05},{"x":18.95,"y":-2.1},{"x":19.1,"y":-1.95},{"x":19.2,"y":-1.35},{"x":19.3,"y":-1.1},{"x":19.35,"y":-0.85},{"x":19.4,"y":-0.6},{"x":19.45,"y":-0.35},{"x":19.5,"y":-0.1},{"x":19.55,"y":0.15},{"x":19.6,"y":0.4},{"x":19.45,"y":1.0},{"x":19.55,"y":1.2},{"x":19.6,"y":1.35},{"x":19.35,"y":0.9},{"x":19.55,"y":-2.0},{"x":19.85,"y":-1.35},{"x":19.9,"y":-0.6},{"x":19.95,"y":-0.35},{"x":20.0,"y":-0.1},{"x":20.05,"y":0.15},{"x":20.1,"y":0.35},{"x":20.1,"y":-1.8},{"x":20.2,"y":-1.6},{"x":20.3,"y":-1.3},{"x":20.35,"y":-1.05},{"x":20.4,"y":-0.85},{"x":20.45,"y":-0.55},{"x":20.5,"y":-0.3},{"x":20.55,"y":-0.05},{"x":20.6,"y":0.2},{"x":20.4,"y":0.8},{"x":20.5,"y":1.0},{"x":20.35,"y":0.6},{"x":20.7,"y":1.35},{"x":20.6,"y":-1.8},{"x":20.7,"y":-1.75},{"x":20.75,"y":-0.8},{"x":20.8,"y":-0.55},{"x":20.85,"y":-0.3},{"x":20.75,"y":0.55},{"x":21.0,"y":-1.1},{"x":21.05,"y":-0.05},{"x":21.1,"y":0.15},{"x":21.2,"y":-0.6},{"x":21.25,"y":-0.4},{"x":21.15,"y":-1.65},{"x":21.25,"y":-1.45},{"x":21.35,"y":-1.2},{"x":21.45,"y":-0.9},{"x":21.5,"y":-0.65},{"x":21.55,"y":-0.4},{"x":21.6,"y":-0.15},{"x":21.65,"y":0.35},{"x":21.7,"y":-1.6},{"x":21.85,"y":-1.0},{"x":21.9,"y":-0.7},{"x":21.95,"y":-0.45},{"x":22.0,"y":-0.2},{"x":22.05,"y":0.0},{"x":21.9,"y":0.75},{"x":22.15,"y":-0.95},{"x":22.2,"y":-0.8},{"x":22.3,"y":-0.75},{"x":22.35,"y":-0.4},{"x":22.4,"y":-0.15},{"x":22.45,"y":0.05},{"x":22.5,"y":0.35},{"x":22.55,"y":0.3},{"x":22.3,"y":0.75},{"x":22.5,"y":1.05},{"x":22.5,"y":-1.05},{"x":22.65,"y":-1.65},{"x":22.65,"y":-0.7},{"x":22.7,"y":-0.45},{"x":22.75,"y":-0.2},{"x":22.9,"y":-1.25},{"x":22.95,"y":-0.5},{"x":23.0,"y":-0.05},{"x":23.2,"y":-0.6},{"x":23.25,"y":-1.4},{"x":23.3,"y":-0.4},{"x":23.35,"y":-0.15},{"x":23.4,"y":0.8},{"x":23.45,"y":1.0},{"x":23.5,"y":0.05},{"x":23.75,"y":-0.7},{"x":23.8,"y":-0.45},{"x":23.85,"y":-0.2},{"x":23.95,"y":0.05},{"x":24.2,"y":-0.6},{"x":24.25,"y":-0.35},{"x":24.45,"y":-0.05},{"x":24.5,"y":-0.95},{"x":24.65,"y":-0.65},{"x":24.75,"y":-0.35},{"x":24.9,"y":-0.1},
{"x":17.0,"y":-0.6},{"x":17.15,"y":-0.15},{"x":17.2,"y":0.1},{"x":17.25,"y":0.35},{"x":17.75,"y":0.3},{"x":17.7,"y":0.05},{"x":17.65,"y":-0.2},{"x":17.6,"y":-0.45},{"x":18.2,"y":0.45},{"x":18.15,"y":-0.4},{"x":18.1,"y":-0.65},{"x":18.05,"y":-0.9},{"x":18.7,"y":0.2},{"x":18.72,"y":-0.05},{"x":18.68,"y":-0.3},{"x":18.62,"y":-0.55},{"x":19.2,"y":0.1},{"x":19.22,"y":0.35},{"x":19.18,"y":-0.15},{"x":19.15,"y":-0.4},{"x":19.12,"y":-0.65},{"x":19.75,"y":0.3},{"x":19.72,"y":0.05},{"x":19.7,"y":-0.2},{"x":19.68,"y":-0.45},{"x":19.65,"y":-0.7},{"x":19.62,"y":-0.95},{"x":20.2,"y":0.0},{"x":20.22,"y":-0.25},{"x":20.2,"y":-0.5},{"x":20.15,"y":-0.75},{"x":20.12,"y":-1.0},{"x":20.75,"y":0.15},{"x":20.95,"y":-0.55},{"x":20.98,"y":-0.3},{"x":21.0,"y":-0.85},{"x":16.0,"y":0.2},{"x":15.95,"y":-1.1},{"x":15.55,"y":0.15},{"x":15.3,"y":-0.05},{"x":14.4,"y":0.1},{"x":14.35,"y":-0.15},{"x":22.15,"y":-0.15},{"x":22.15,"y":0.05},{"x":22.35,"y":-0.65},{"x":22.6,"y":0.1},{"x":23.6,"y":-0.35},{"x":24.0,"y":-0.3},{"x":24.55,"y":-0.25}]
},
"align":"none","spacing":56,
"vconcat":[
{"spacing":0,"bounds":"flush","align":"none","hconcat":[
{"width":66,"height":1,"data":{"values":[{"s":0}]},"mark":{"type":"point","opacity":0},"encoding":{}},
{"width":917,"height":645,"title":{"text":"Less than 5 years old","fontSize":33.8,"font":"Liberation Sans","fontWeight":"normal","color":"#000000","offset":-69,"dx":-32,"anchor":"middle"},
"layer":[
{"data":{"name":"a"},"mark":{"type":"circle","size":118,"opacity":1,"color":"#1a476f"},"encoding":{"x":{"field":"x","type":"quantitative","scale":{"domain":[4.76,15.25],"nice":false,"zero":false},"axis":{"values":[5,10,15],"title":"Average ([Hb+Hct*3]/2)","labelFontSize":28,"titleFontSize":27.5,"tickSize":12,"labelPadding":6,"titlePadding":-2,"tickWidth":2,"domainWidth":2}},"y":{"field":"y","type":"quantitative","scale":{"domain":[-10.42,6.44],"nice":false,"zero":false},"axis":{"values":[-10,-8,-6,-4,-2,0,2,4,6],"tickCount":9,"title":"Difference (Hb- Hct/3)","labelFontSize":28,"titleFontSize":27.5,"tickSize":13,"labelPadding":3,"titlePadding":11,"tickWidth":2,"domainWidth":2}}}},
{"data":{"values":[{"v":-0.68}]},"mark":{"type":"rule","color":"#c10534","strokeWidth":3},"encoding":{"y":{"field":"v","type":"quantitative"}}},
{"data":{"values":[{"v":1.88},{"v":-3.23}]},"mark":{"type":"rule","color":"#c10534","strokeWidth":3,"strokeDash":[18,5]},"encoding":{"y":{"field":"v","type":"quantitative"}}},
{"data":{"values":[{"a":4.96,"b":-0.59},{"a":15.05,"b":-0.84}]},"mark":{"type":"line","color":"#90353b","strokeWidth":8,"strokeCap":"round"},"encoding":{"x":{"field":"a","type":"quantitative"},"y":{"field":"b","type":"quantitative"}}},
{"data":{"values":[{"label":"(a)"}]},"mark":{"type":"text","font":"Liberation Serif","fontSize":33,"align":"left","baseline":"middle","color":"#000000"},"encoding":{"x":{"datum":3.23},"y":{"datum":12.88},"text":{"field":"label"}}}
]}],"resolve":{"scale":{"x":"independent","y":"independent"}}},
{"spacing":113,"align":"none","hconcat":[
{"spacing":0,"bounds":"flush","align":"none","vconcat":[
{"width":1,"height":5,"data":{"values":[{"s":0}]},"mark":{"type":"point","opacity":0},"encoding":{}},
{"width":458,"height":295,"title":{"text":"Aged 5 to 14","fontSize":18.9,"font":"Liberation Sans","fontWeight":"normal","color":"#1e2c55","offset":-71,"anchor":"middle"},
"layer":[
{"data":{"name":"b"},"mark":{"type":"circle","size":26,"opacity":1,"color":"#1a476f"},"encoding":{"x":{"field":"x","type":"quantitative","scale":{"domain":[-0.28,15.7],"nice":false,"zero":false},"axis":{"values":[0,5,10,15],"title":"Average ([Hb+Hct*3]/2)","labelFontSize":14.5,"titleFontSize":13.8,"tickSize":6,"labelPadding":4,"titlePadding":2,"domainColor":"#777777","tickColor":"#777777"}},"y":{"field":"y","type":"quantitative","scale":{"domain":[-10.33,6.46],"nice":false,"zero":false},"axis":{"values":[-10,-8,-6,-4,-2,0,2,4,6],"tickCount":9,"title":"Difference (Hb- Hct/3)","labelFontSize":13.5,"titleFontSize":13.5,"tickSize":6,"labelPadding":2,"titlePadding":6,"domainColor":"#777777","tickColor":"#777777"}}}},
{"data":{"values":[{"v":-0.28}]},"mark":{"type":"rule","color":"#c10534","strokeWidth":1.5},"encoding":{"y":{"field":"v","type":"quantitative"}}},
{"data":{"values":[{"v":1.58},{"v":-2.14}]},"mark":{"type":"rule","color":"#c10534","strokeWidth":1.5,"strokeDash":[9,3]},"encoding":{"y":{"field":"v","type":"quantitative"}}},
{"data":{"values":[{"a":3.57,"b":0.07},{"a":15.4,"b":-0.52}]},"mark":{"type":"line","color":"#90353b","strokeWidth":3,"strokeCap":"round"},"encoding":{"x":{"field":"a","type":"quantitative"},"y":{"field":"b","type":"quantitative"}}},
{"data":{"values":[{"label":"(b)"}]},"mark":{"type":"text","font":"Liberation Serif","fontSize":33,"align":"left","baseline":"middle","color":"#000000"},"encoding":{"x":{"datum":-2.65},"y":{"datum":9.82},"text":{"field":"label"}}}
]}],"resolve":{"scale":{"x":"independent","y":"independent"}}},
{"width":458,"height":295,"title":{"text":"Aged 15+","fontSize":18.9,"font":"Liberation Sans","fontWeight":"normal","color":"#1e2c55","offset":-67,"anchor":"middle"},
"layer":[
{"data":{"name":"c"},"mark":{"type":"circle","size":26,"opacity":1,"color":"#1a476f"},"encoding":{"x":{"field":"x","type":"quantitative","scale":{"domain":[7.99,30.44],"nice":false,"zero":false},"axis":{"values":[10,15,20,25,30],"title":"Average ([Hb+Hct*3]/2)","labelFontSize":14.5,"titleFontSize":13.8,"tickSize":6,"labelPadding":4,"titlePadding":2,"domainColor":"#777777","tickColor":"#777777"}},"y":{"field":"y","type":"quantitative","scale":{"domain":[-10.3,6.45],"nice":false,"zero":false},"axis":{"values":[-10,-8,-6,-4,-2,0,2,4,6],"tickCount":9,"title":"Difference (Hb- Hct/3)","labelFontSize":13.5,"titleFontSize":13.5,"tickSize":6,"labelPadding":2,"titlePadding":6,"domainColor":"#777777","tickColor":"#777777"}}}},
{"data":{"values":[{"v":-0.28}]},"mark":{"type":"rule","color":"#c10534","strokeWidth":1.5},"encoding":{"y":{"field":"v","type":"quantitative"}}},
{"data":{"values":[{"v":1.07},{"v":-1.63}]},"mark":{"type":"rule","color":"#c10534","strokeWidth":1.5,"strokeDash":[9,3]},"encoding":{"y":{"field":"v","type":"quantitative"}}},
{"data":{"values":[{"a":8.4,"b":-0.22},{"a":26.8,"b":-0.29}]},"mark":{"type":"line","color":"#90353b","strokeWidth":3,"strokeCap":"round"},"encoding":{"x":{"field":"a","type":"quantitative"},"y":{"field":"b","type":"quantitative"}}},
{"data":{"values":[{"label":"(c)"}]},"mark":{"type":"text","font":"Liberation Serif","fontSize":33,"align":"left","baseline":"middle","color":"#000000"},"encoding":{"x":{"datum":6.13},"y":{"datum":9.52},"text":{"field":"label"}}}
]}
],"resolve":{"scale":{"x":"independent","y":"independent"}}}
],"resolve":{"scale":{"x":"independent","y":"independent"}}}
